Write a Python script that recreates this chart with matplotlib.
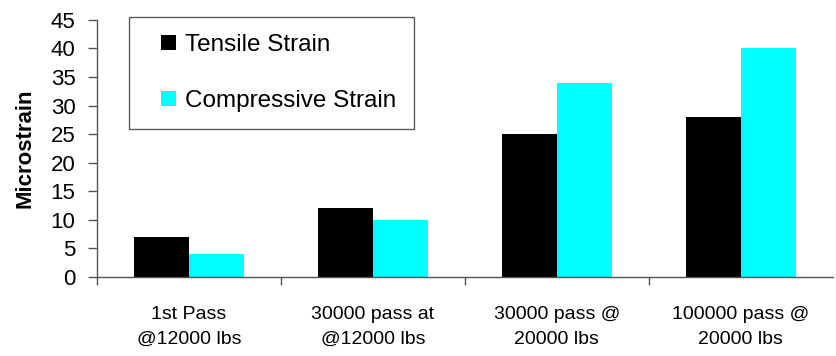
import matplotlib
matplotlib.use("Agg")
import matplotlib.pyplot as plt
import matplotlib.patches as mpatches
from matplotlib.container import BarContainer
from matplotlib.legend_handler import HandlerPatch, update_from_first_child
import numpy as np

plt.rcParams['font.family'] = ['Liberation Sans', 'DejaVu Sans']

# strain readings per loading stage
stages = ["1st Pass\n@12000 lbs", "30000 pass at\n@12000 lbs",
          "30000 pass @\n20000 lbs", "100000 pass @\n20000 lbs"]
tensile = [7, 12, 25, 28]
compressive = [4, 10, 34, 40]

x = np.arange(len(stages))
w = 0.3
axis_color = '#555555'


def square_key(legend, orig_handle, xdescent, ydescent, width, height, fontsize):
    # small square key, pushed to the right end of the handle slot
    s = 0.62 * fontsize
    return mpatches.Rectangle((width - s - xdescent, (height - s) / 2 - ydescent), s, s)


fig = plt.figure(figsize=(8.36, 3.56), dpi=100)
ax = fig.add_axes([0.116, 0.222, 0.88, 0.722])

ax.bar(x - w / 2, tensile, w, color='black', label='Tensile Strain')
ax.bar(x + w / 2, compressive, w, color='#00FFFF', label='Compressive Strain')

ax.set_xlim(-0.5, 3.5)
ax.set_ylim(0, 45)
ax.set_yticks(range(0, 46, 5))

# category labels centred, tick marks on the boundaries
ax.set_xticks(x)
ax.set_xticklabels(stages, fontsize=14)
for t in ax.get_xticklabels():
    t.set_linespacing(1.62)
ax.set_xticks(np.arange(-0.5, 3.0, 1.0), minor=True)
ax.tick_params(axis='x', which='major', length=0, pad=21)
ax.tick_params(axis='x', which='minor', length=6, width=1, color=axis_color, direction='out')
ax.tick_params(axis='y', length=6.5, width=1, color=axis_color, labelsize=16, pad=9)

for side in ('top', 'right'):
    ax.spines[side].set_visible(False)
for side in ('left', 'bottom'):
    ax.spines[side].set_color(axis_color)
    ax.spines[side].set_linewidth(1)

ax.set_ylabel('Microstrain', fontsize=16, fontweight='bold', labelpad=11)

leg = ax.legend(loc='upper left', bbox_to_anchor=(0.0435, 1.012), borderaxespad=0,
                fontsize=17.5, frameon=True, fancybox=False, edgecolor='#333333',
                handlelength=1.21, handleheight=0.62, handletextpad=0.37,
                labelspacing=1.38, borderpad=0.72,
                handler_map={BarContainer: HandlerPatch(patch_func=square_key,
                                                        update_func=update_from_first_child)})
leg.get_frame().set_linewidth(1)

fig.savefig('out.png', dpi=100)
